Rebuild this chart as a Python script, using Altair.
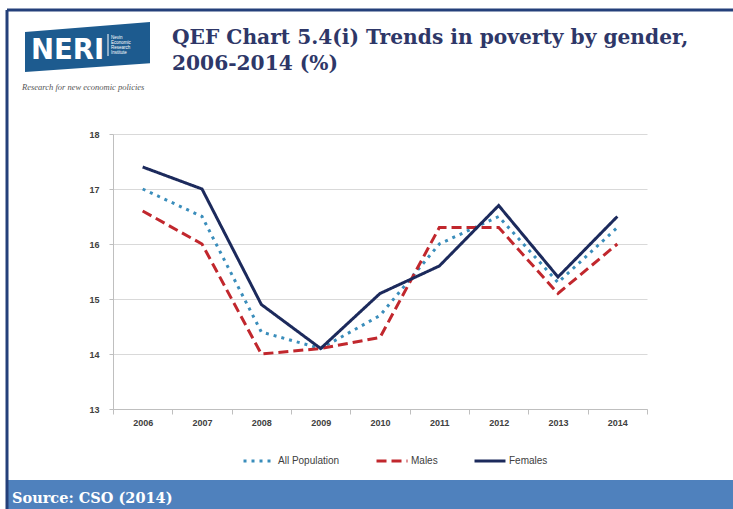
import altair as alt
import pandas as pd

years = ["2006", "2007", "2008", "2009", "2010", "2011", "2012", "2013", "2014"]
all_population = [17.0, 16.5, 14.4, 14.1, 14.7, 16.0, 16.5, 15.3, 16.3]
males = [16.6, 16.0, 14.0, 14.1, 14.3, 16.3, 16.3, 15.1, 16.0]
females = [17.4, 17.0, 14.9, 14.1, 15.1, 15.6, 16.7, 15.4, 16.5]
series_names = ["All Population", "Males", "Females"]
series_colors = ["#3a8dbb", "#c1272d", "#1c2a5c"]
series_dashes = [[3, 5], [10, 5], [1, 0]]
y_ticks = [13, 14, 15, 16, 17, 18]

title_line1 = "QEF Chart 5.4(i) Trends in poverty by gender,"
title_line2 = "2006-2014 (%)"
source_text = "Source: CSO (2014)"

rows = []
for name, vals in zip(series_names, [all_population, males, females]):
    for yr, v in zip(years, vals):
        rows.append({"Year": yr, "Series": name, "Value": v})
df = pd.DataFrame(rows)
one = pd.DataFrame({"k": [0]})

W, H = 534, 275
L, T = 113, 134
R = 733 - L - W
B = 509 - T - H

legend_kw = dict(
    title=None, orient="none", legendX=129, legendY=310, direction="horizontal",
    symbolType="stroke", symbolSize=960, symbolStrokeWidth=3,
    labelFont="Liberation Sans", labelFontSize=10, labelColor="#404040",
    labelOffset=2, columnPadding=30,
)

lines = alt.Chart(df).mark_line(strokeWidth=3, strokeCap="butt").encode(
    x=alt.X("Year:O", bandPosition=0.5,
            scale=alt.Scale(type="band", domain=years, paddingInner=0, paddingOuter=0),
            axis=alt.Axis(title=None, labelAngle=0, tickBand="extent", ticks=True,
                          tickSize=5, tickColor="#bfbfbf", domainColor="#bfbfbf",
                          labelFont="Liberation Sans", labelFontSize=9, labelFontWeight="bold",
                          labelColor="#404040", labelPadding=4, grid=False)),
    y=alt.Y("Value:Q", scale=alt.Scale(domain=[13, 18], nice=False, zero=False),
            axis=alt.Axis(title=None, values=y_ticks, tickSize=4, tickColor="#bfbfbf",
                          domainColor="#bfbfbf", gridColor="#d9d9d9", grid=True,
                          labelFont="Liberation Sans", labelFontSize=9, labelFontWeight="bold",
                          labelColor="#404040", labelPadding=10)),
    color=alt.Color("Series:N", scale=alt.Scale(domain=series_names, range=series_colors),
                    legend=alt.Legend(**legend_kw)),
    strokeDash=alt.StrokeDash("Series:N", scale=alt.Scale(domain=series_names, range=series_dashes),
                              legend=alt.Legend(**legend_kw)),
)

frame_top = alt.Chart(one).mark_rule(color="#24407a", strokeWidth=3).encode(
    x=alt.value(7 - L), x2=alt.value(733 - L), y=alt.value(10 - T))
frame_left = alt.Chart(one).mark_rule(color="#24407a", strokeWidth=3).encode(
    x=alt.value(7 - L), y=alt.value(10 - T), y2=alt.value(509 - T))
band = alt.Chart(one).mark_rect(color="#4f81bd").encode(
    x=alt.value(7 - L), x2=alt.value(733 - L), y=alt.value(480 - T), y2=alt.value(509 - T))
source = alt.Chart(one).mark_text(
    text=source_text, align="left", baseline="alphabetic", font="DejaVu Serif",
    fontWeight="bold", fontSize=14.5, color="white").encode(
    x=alt.value(12 - L), y=alt.value(503 - T))

logo_path = "M -1 -0.24 L 1 -0.4 L 1 0.26 L -1 0.4 Z"
logo = alt.Chart(one).mark_point(shape=logo_path, filled=True, size=15625, color="#1d5b8f",
                                 opacity=1, strokeWidth=0).encode(
    x=alt.value(87.5 - L), y=alt.value(47 - T))
logo_text = alt.Chart(one).mark_text(
    text="NERI", align="left", baseline="alphabetic", font="DejaVu Sans",
    fontWeight="bold", fontSize=27.5, color="white").encode(
    x=alt.value(31 - L), y=alt.value(59 - T))
logo_small = alt.Chart(one).mark_text(
    text="Nevin\nEconomic\nResearch\nInstitute", lineBreak="\n", lineHeight=5,
    align="left", baseline="top", font="Liberation Sans", fontSize=4.5, color="white").encode(
    x=alt.value(111 - L), y=alt.value(35 - T))
logo_sep = alt.Chart(one).mark_rule(color="white", strokeWidth=1).encode(
    x=alt.value(108 - L), y=alt.value(34 - T), y2=alt.value(56 - T))
tagline = alt.Chart(one).mark_text(
    text="Research for new economic policies", align="left", baseline="alphabetic",
    font="Liberation Serif", fontStyle="italic", fontSize=8.5, color="#555555").encode(
    x=alt.value(22 - L), y=alt.value(90 - T))

t1 = alt.Chart(one).mark_text(
    text=title_line1, align="left", baseline="alphabetic", font="DejaVu Serif",
    fontWeight="bold", fontSize=20.2, color="#2e3768").encode(
    x=alt.value(172 - L), y=alt.value(44 - T))
t2 = alt.Chart(one).mark_text(
    text=title_line2, align="left", baseline="alphabetic", font="DejaVu Serif",
    fontWeight="bold", fontSize=20.2, color="#2e3768").encode(
    x=alt.value(172 - L), y=alt.value(70 - T))

chart = alt.layer(
    lines, band, frame_top, frame_left, source, logo, logo_sep, logo_text, logo_small,
    tagline, t1, t2
).properties(
    width=W, height=H,
    padding={"left": L, "top": T, "right": R, "bottom": B},
    autosize=alt.AutoSizeParams(type="none"),
    background="white",
).configure_view(stroke=None)

chart.save("out.html", embed_options={"renderer": "svg", "actions": False})
